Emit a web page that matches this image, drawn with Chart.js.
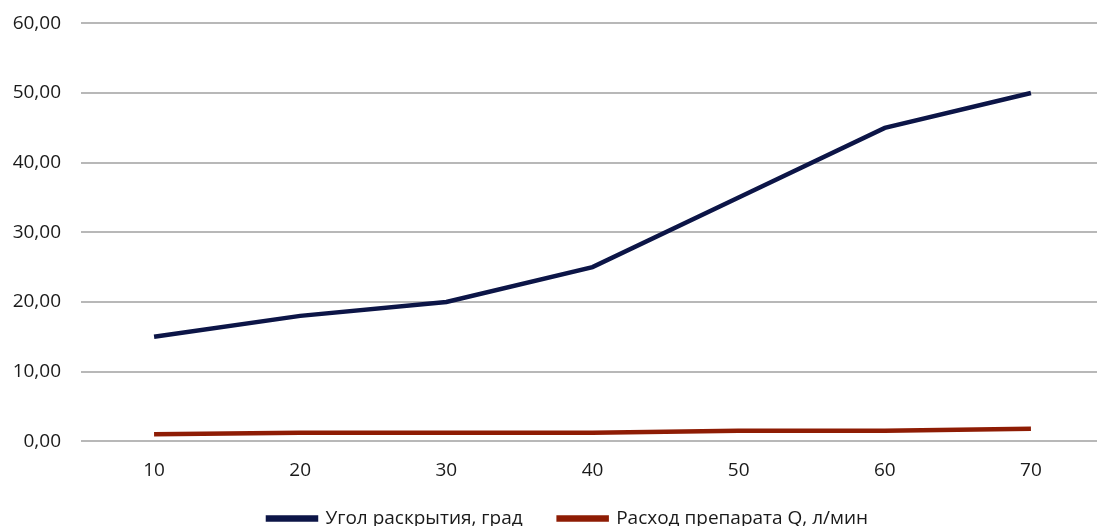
<!DOCTYPE html>
<html lang="ru">
<head>
<meta charset="utf-8">
<script src="https://cdn.jsdelivr.net/npm/chart.js@4/dist/chart.umd.min.js"></script>
<style>
  html, body { margin: 0; padding: 0; background: #fff; overflow: hidden; }
  #wrap { width: 1097px; height: 526px; overflow: hidden; }
  #box { width: 1104px; height: 565px; margin-top: -8px; }
</style>
</head>
<body>
<div id="wrap"><div id="box"><canvas id="angleChart"></canvas></div></div>
<script>
// Данные графика
const categories = ['10', '20', '30', '40', '50', '60', '70'];
const angleValues = [15, 18, 20, 25, 35, 45, 50];
const flowValues = [1.0, 1.2, 1.2, 1.2, 1.5, 1.5, 1.8];
const yTicks = [0, 10, 20, 30, 40, 50, 60];

const fontFamily = '"Open Sans", "Noto Sans", sans-serif';

// Сдвиг легенды после раскладки (по вертикали и горизонтали)
const legendShift = {
  id: 'legendShift',
  afterUpdate(chart) {
    const lg = chart.legend;
    if (!lg) return;
    lg.top -= 19;
    lg.bottom -= 19;
    lg.left += 16;
    lg.right += 16;
  }
};

function initAngleChart() {
  const ctx = document.getElementById('angleChart').getContext('2d');
  new Chart(ctx, {
    type: 'line',
    data: {
      labels: categories,
      datasets: [{
        label: 'Угол раскрытия, град',
        data: angleValues,
        borderColor: '#0c1547',
        backgroundColor: '#0c1547',
        borderWidth: 4.5,
        pointRadius: 0,
        tension: 0
      }, {
        label: 'Расход препарата Q, л/мин',
        data: flowValues,
        borderColor: '#8e1c04',
        backgroundColor: '#8e1c04',
        borderWidth: 4.5,
        pointRadius: 0,
        tension: 0
      }]
    },
    plugins: [legendShift],
    options: {
      responsive: true,
      maintainAspectRatio: false,
      animation: false,
      layout: {
        padding: { left: 0, right: 0, top: 4, bottom: 0 }
      },
      plugins: {
        tooltip: { enabled: false },
        legend: {
          position: 'bottom',
          labels: {
            boxWidth: 48,
            boxHeight: 2,
            padding: 36,
            color: '#1a1a1a',
            font: { family: fontFamily, size: 19 }
          }
        }
      },
      scales: {
        x: {
          offset: true,
          grid: { display: false },
          border: { display: false },
          ticks: {
            color: '#1a1a1a',
            padding: 10,
            font: { family: fontFamily, size: 19 }
          }
        },
        y: {
          min: 0,
          max: 60,
          afterBuildTicks: axis => {
            axis.ticks = yTicks.map(v => ({ value: v }));
          },
          afterFit: axis => {
            axis.width = 81;
          },
          grid: { color: '#b8b8b8', lineWidth: 2, drawTicks: false },
          border: { display: false },
          ticks: {
            color: '#1a1a1a',
            padding: 20,
            font: { family: fontFamily, size: 19 },
            callback: v => v.toFixed(2).replace('.', ',')
          }
        }
      }
    }
  });
}

document.addEventListener('DOMContentLoaded', initAngleChart);
</script>
</body>
</html>
